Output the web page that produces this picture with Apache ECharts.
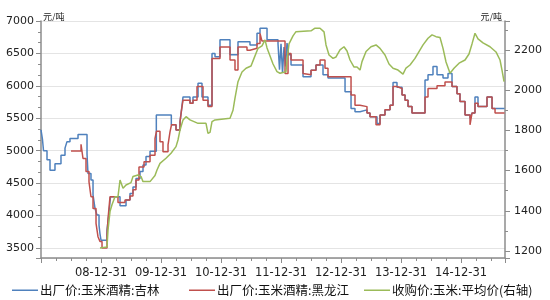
<!DOCTYPE html>
<html><head><meta charset="utf-8">
<script src="https://cdn.jsdelivr.net/npm/echarts@6/dist/echarts.min.js"></script>
<style>html,body{margin:0;padding:0;background:#fff}#c{width:550px;height:300px}</style>
</head><body><div id="c"></div>
<script>
// x = decimal year (2009.0 = 08-12-31)
const seriesNames = ['出厂价:玉米酒精:吉林', '出厂价:玉米酒精:黑龙江', '收购价:玉米:平均价(右轴)'];
const yearTicks = [2009, 2010, 2011, 2012, 2013, 2014, 2015];
const jilin = [[2008.000,5320],[2008.025,5170],[2008.042,5000],[2008.100,4860],[2008.150,4700],[2008.233,4800],[2008.333,4930],[2008.400,5040],[2008.433,5140],[2008.483,5190],[2008.617,5250],[2008.767,4950],[2008.783,4650],[2008.833,4550],[2008.867,4320],[2008.900,4110],[2008.933,4010],[2008.967,3850],[2008.983,3720],[2009.000,3620],[2009.100,3780],[2009.133,4040],[2009.158,4290],[2009.317,4150],[2009.417,4240],[2009.483,4340],[2009.533,4440],[2009.583,4570],[2009.650,4680],[2009.700,4780],[2009.750,4910],[2009.817,4990],[2009.922,5550],[2010.172,5400],[2010.250,5320],[2010.317,5450],[2010.342,5630],[2010.367,5830],[2010.483,5730],[2010.533,5830],[2010.617,6040],[2010.683,5830],[2010.783,5700],[2010.850,6500],[2010.900,6450],[2010.983,6710],[2011.150,6480],[2011.283,6680],[2011.483,6630],[2011.600,6810],[2011.650,6890],[2011.767,6710],[2011.950,6650],[2011.975,6250],[2012.000,6650],[2012.025,6200],[2012.050,6600],[2012.075,6300],[2012.100,6660],[2012.125,6480],[2012.167,6320],[2012.367,6140],[2012.500,6240],[2012.583,6320],[2012.700,6170],[2012.783,6120],[2013.067,5910],[2013.167,5650],[2013.233,5600],[2013.317,5630],[2013.433,5580],[2013.483,5525],[2013.600,5420],[2013.650,5550],[2013.733,5630],[2013.817,5700],[2013.867,6050],[2013.933,5980],[2014.017,5860],[2014.067,5780],[2014.117,5680],[2014.183,5580],[2014.400,6090],[2014.450,6170],[2014.533,6300],[2014.600,6170],[2014.700,6120],[2014.783,6190],[2014.850,5990],[2014.933,5880],[2014.983,5760],[2015.067,5550],[2015.150,5500],[2015.183,5580],[2015.233,5830],[2015.283,5680],[2015.433,5830],[2015.517,5650],[2015.725,5650]];
const heilongjiang = [[2008.500,4995],[2008.667,5100],[2008.700,4880],[2008.750,4680],[2008.800,4520],[2008.833,4290],[2008.867,4110],[2008.917,3880],[2008.950,3675],[2008.983,3600],[2009.017,3500],[2009.100,3700],[2009.117,3950],[2009.150,4290],[2009.283,4200],[2009.400,4240],[2009.483,4300],[2009.533,4400],[2009.583,4550],[2009.633,4750],[2009.717,4830],[2009.817,4930],[2009.900,5190],[2009.925,5300],[2009.983,5140],[2010.033,4985],[2010.117,5090],[2010.150,5290],[2010.175,5400],[2010.250,5320],[2010.317,5450],[2010.342,5630],[2010.367,5780],[2010.483,5730],[2010.533,5780],[2010.600,5990],[2010.700,5780],[2010.783,5680],[2010.850,6420],[2010.983,6600],[2011.150,6400],[2011.233,6245],[2011.283,6600],[2011.433,6550],[2011.483,6580],[2011.600,6655],[2011.650,6810],[2011.683,6690],[2012.067,6190],[2012.117,6500],[2012.167,6400],[2012.367,6190],[2012.400,6170],[2012.500,6240],[2012.583,6320],[2012.650,6400],[2012.733,6270],[2012.783,6140],[2013.167,5860],[2013.233,5700],[2013.317,5680],[2013.433,5580],[2013.483,5525],[2013.583,5400],[2013.650,5550],[2013.733,5630],[2013.817,5700],[2013.867,5990],[2013.933,5960],[2014.017,5860],[2014.067,5780],[2014.117,5680],[2014.183,5580],[2014.400,5830],[2014.450,5960],[2014.600,6000],[2014.733,6060],[2014.850,5990],[2014.933,5880],[2014.983,5760],[2015.067,5550],[2015.150,5400],[2015.183,5580],[2015.233,5730],[2015.283,5680],[2015.433,5830],[2015.517,5650],[2015.567,5580],[2015.725,5580]];
const cornAvg = [[2008.983,1215],[2009.100,1220],[2009.117,1305],[2009.150,1396],[2009.183,1430],[2009.233,1470],[2009.283,1470],[2009.317,1553],[2009.367,1512],[2009.417,1528],[2009.500,1540],[2009.533,1570],[2009.617,1578],[2009.667,1570],[2009.700,1545],[2009.817,1545],[2009.900,1575],[2009.933,1603],[2009.983,1636],[2010.083,1661],[2010.167,1686],[2010.250,1719],[2010.283,1752],[2010.317,1802],[2010.367,1852],[2010.417,1868],[2010.483,1852],[2010.617,1835],[2010.750,1835],[2010.783,1785],[2010.817,1790],[2010.850,1843],[2010.900,1852],[2011.150,1860],[2011.200,1900],[2011.233,1960],[2011.283,2042],[2011.350,2090],[2011.417,2109],[2011.500,2120],[2011.550,2158],[2011.617,2208],[2011.683,2220],[2011.733,2250],[2011.767,2210],[2011.817,2170],[2011.867,2130],[2011.933,2092],[2011.983,2084],[2012.083,2092],[2012.100,2150],[2012.133,2230],[2012.200,2270],[2012.250,2291],[2012.500,2295],[2012.567,2308],[2012.650,2308],[2012.717,2290],[2012.750,2225],[2012.800,2175],[2012.867,2158],[2012.917,2165],[2012.983,2200],[2013.050,2216],[2013.100,2195],[2013.150,2150],[2013.217,2115],[2013.267,2115],[2013.317,2100],[2013.350,2142],[2013.417,2192],[2013.500,2216],[2013.583,2225],[2013.650,2208],[2013.733,2175],[2013.800,2130],[2013.867,2109],[2013.950,2100],[2014.033,2080],[2014.083,2110],[2014.150,2125],[2014.233,2158],[2014.300,2192],[2014.367,2225],[2014.450,2258],[2014.517,2275],[2014.583,2266],[2014.650,2262],[2014.700,2208],[2014.750,2140],[2014.817,2084],[2014.883,2109],[2014.967,2134],[2015.067,2150],[2015.133,2180],[2015.183,2230],[2015.233,2283],[2015.283,2255],[2015.367,2235],[2015.483,2216],[2015.583,2190],[2015.650,2150],[2015.683,2100],[2015.717,2042]];
const colors = ['#4F81BD', '#C0504D', '#9BBB59'];

const chart = echarts.init(document.getElementById('c'), null, {renderer: 'canvas'});
const axisGray = '#8c8c8c';
const lblStyle = {color: '#222', fontFamily: 'DejaVu Sans', fontSize: 11};
function legendAt(i, left) {
  return {data: [seriesNames[i]], left: left, top: 284, icon: 'rect', itemWidth: 26, itemHeight: 1.5, padding: 0,
    textStyle: {fontFamily: 'Noto Sans CJK SC', fontSize: 12.5, color: '#111', padding: [0, 0, 0, -3]}};
}
chart.setOption({
  animation: false,
  color: colors,
  grid: {left: 41, right: 45, top: 21, bottom: 42},
  legend: [legendAt(0, 12), legendAt(1, 189), legendAt(2, 364)],
  graphic: [
    {type: 'text', left: 43, top: 12, style: {text: '元/吨', font: '9px "Noto Sans CJK SC"', fill: '#222'}},
    {type: 'text', right: 48, top: 12, style: {text: '元/吨', font: '9px "Noto Sans CJK SC"', fill: '#222'}}
  ],
  xAxis: {
    type: 'value', min: 2008, max: 2015.733, interval: 1,
    axisLine: {lineStyle: {color: axisGray, width: 1.5}},
    axisTick: {length: 5, lineStyle: {color: axisGray}},
    minorTick: {show: true, splitNumber: 4, length: 3, lineStyle: {color: axisGray}},
    splitLine: {show: false},
    axisLabel: Object.assign({}, lblStyle, {fontSize: 11.5, margin: 9,
      formatter: v => yearTicks.indexOf(v) >= 0 ? String(v - 1).slice(2) + '-12-31' : ''})
  },
  yAxis: [{
    type: 'value', min: 3346, max: 7000, minInterval: 500, maxInterval: 500, splitNumber: 7,
    axisLine: {show: true, lineStyle: {color: axisGray, width: 1.5}},
    axisTick: {show: true, length: 5, lineStyle: {color: axisGray}},
    minorTick: {show: true, splitNumber: 3, length: 3, lineStyle: {color: axisGray}},
    splitLine: {show: true, lineStyle: {color: '#e4e4e4'}},
    axisLabel: Object.assign({}, lblStyle, {margin: 7, showMinLabel: false,
      formatter: v => v % 500 === 0 ? String(v) : ''})
  }, {
    type: 'value', position: 'right', min: 1165, max: 2344, minInterval: 200, maxInterval: 200, splitNumber: 6,
    axisLine: {show: true, lineStyle: {color: axisGray, width: 1.5}},
    axisTick: {show: true, length: 5, lineStyle: {color: axisGray}},
    minorTick: {show: true, splitNumber: 2, length: 3, lineStyle: {color: axisGray}},
    splitLine: {show: false},
    axisLabel: Object.assign({}, lblStyle, {margin: 9, showMinLabel: false, showMaxLabel: false,
      formatter: v => v % 200 === 0 ? String(v) : ''})
  }],
  series: [
    {name: seriesNames[0], type: 'line', step: 'end', data: jilin, symbol: 'none', lineStyle: {width: 1.5}, yAxisIndex: 0},
    {name: seriesNames[1], type: 'line', step: 'end', data: heilongjiang, symbol: 'none', lineStyle: {width: 1.5}, yAxisIndex: 0},
    {name: seriesNames[2], type: 'line', data: cornAvg, symbol: 'none', lineStyle: {width: 1.5}, yAxisIndex: 1}
  ]
});
</script></body></html>
